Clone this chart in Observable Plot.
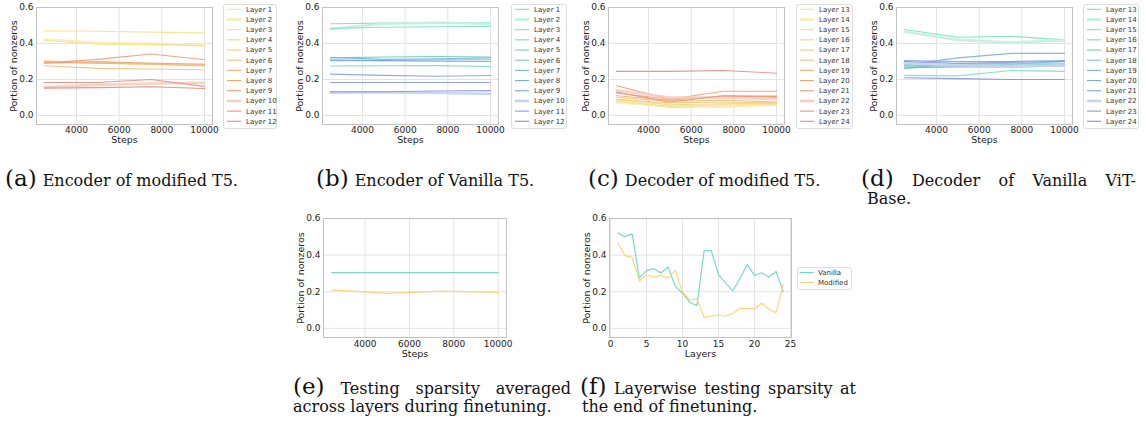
<!DOCTYPE html>
<html>
<head>
<meta charset="utf-8">
<script src="https://cdn.jsdelivr.net/npm/d3@7"></script>
<script src="https://cdn.jsdelivr.net/npm/@observablehq/plot@0.6"></script>
<style>
html,body{margin:0;padding:0;background:#fff;}
#root{position:relative;width:1146px;height:426px;overflow:hidden;background:#fff;}
#root > *{position:absolute;}
</style>
</head>
<body>
<div id="root"></div>
<script>
// ---------- data ----------
const steps = [2500, 5000, 7500, 10000];
const stepTicks = [4000, 6000, 8000, 10000];
const yTicks = [0, 0.2, 0.4, 0.6];
const layerTicks = [0, 5, 10, 15, 20, 25];
const encoderLayers = ["Layer 1","Layer 2","Layer 3","Layer 4","Layer 5","Layer 6","Layer 7","Layer 8","Layer 9","Layer 10","Layer 11","Layer 12"];
const decoderLayers = ["Layer 13","Layer 14","Layer 15","Layer 16","Layer 17","Layer 18","Layer 19","Layer 20","Layer 21","Layer 22","Layer 23","Layer 24"];

// (a) Encoder of modified T5
const encModified = [
  [0.470, 0.468, 0.463, 0.459],
  [0.422, 0.404, 0.398, 0.392],
  [0.418, 0.396, 0.395, 0.387],
  [0.305, 0.290, 0.285, 0.280],
  [0.300, 0.295, 0.290, 0.285],
  [0.276, 0.262, 0.258, 0.254],
  [0.295, 0.290, 0.285, 0.275],
  [0.290, 0.300, 0.290, 0.285],
  [0.292, 0.312, 0.342, 0.310],
  [0.158, 0.170, 0.178, 0.182],
  [0.183, 0.183, 0.200, 0.162],
  [0.152, 0.155, 0.160, 0.150]
];
// (b) Encoder of Vanilla T5
const encVanilla = [
  [0.510, 0.513, 0.515, 0.515],
  [0.480, 0.510, 0.515, 0.510],
  [0.483, 0.490, 0.493, 0.495],
  [0.275, 0.276, 0.277, 0.272],
  [0.320, 0.325, 0.328, 0.325],
  [0.310, 0.305, 0.310, 0.310],
  [0.323, 0.312, 0.315, 0.320],
  [0.305, 0.305, 0.302, 0.300],
  [0.230, 0.223, 0.218, 0.222],
  [0.127, 0.128, 0.125, 0.120],
  [0.183, 0.183, 0.183, 0.183],
  [0.132, 0.132, 0.136, 0.138]
];
// (c) Decoder of modified T5
const decModified = [
  [0.075, 0.045, 0.045, 0.060],
  [0.072, 0.055, 0.050, 0.065],
  [0.080, 0.050, 0.060, 0.060],
  [0.090, 0.060, 0.065, 0.070],
  [0.088, 0.070, 0.075, 0.070],
  [0.100, 0.080, 0.085, 0.075],
  [0.110, 0.085, 0.110, 0.100],
  [0.125, 0.090, 0.105, 0.105],
  [0.165, 0.090, 0.135, 0.135],
  [0.140, 0.100, 0.100, 0.090],
  [0.130, 0.075, 0.110, 0.108],
  [0.245, 0.245, 0.250, 0.235]
];
// (d) Decoder of Vanilla ViT-Base
const decVanilla = [
  [0.478, 0.435, 0.440, 0.420],
  [0.465, 0.420, 0.405, 0.418],
  [0.223, 0.220, 0.250, 0.245],
  [0.270, 0.280, 0.290, 0.290],
  [0.280, 0.275, 0.280, 0.285],
  [0.260, 0.290, 0.285, 0.300],
  [0.280, 0.320, 0.345, 0.345],
  [0.265, 0.270, 0.270, 0.275],
  [0.305, 0.300, 0.300, 0.305],
  [0.290, 0.280, 0.270, 0.280],
  [0.300, 0.290, 0.295, 0.300],
  [0.210, 0.205, 0.200, 0.200]
];
// (e) averaged across layers
const avgVanilla = [0.304, 0.304, 0.304, 0.304];
const avgModified = [0.210, 0.191, 0.203, 0.196];
// (f) layerwise at end of finetuning
const layerIds = [1,2,3,4,5,6,7,8,9,10,11,12,13,14,15,16,17,18,19,20,21,22,23,24];
const layerVanilla = [0.521,0.501,0.516,0.274,0.315,0.326,0.302,0.335,0.229,0.192,0.143,0.124,0.424,0.424,0.293,0.247,0.205,0.274,0.348,0.289,0.304,0.280,0.311,0.201];
const layerModified = [0.466,0.397,0.388,0.260,0.293,0.280,0.289,0.274,0.315,0.198,0.155,0.161,0.059,0.068,0.073,0.066,0.082,0.110,0.108,0.106,0.137,0.104,0.086,0.238];
const finetuneSeries = ["Vanilla", "Modified"];

// ---------- styles ----------
const warmColors = ["#f6e58d","#f8eeb4","#f6de86","#f5d585","#f5ca80","#f4c07e","#f2b277","#f0a674","#ee9c80","#f4cfc2","#ec9183","#e98b82"];
const coolColors = ["#7fe0c1","#c4efe2","#82ddc8","#7fd6ca","#6fcbc6","#7cc6d1","#77b6d5","#79acd8","#84a5df","#c8d4eb","#8a9bdf","#8993df"];
const layerWidths = [1.1,2.6,1.1,1.1,1.1,1.1,1.1,1.1,1.1,2.6,1.1,1.1];
const pairColors = ["#72d4c6", "#f6d27a"];

const root = document.getElementById("root");
function place(el, left, top) {
  el.style.position = "absolute";
  el.style.left = left + "px";
  el.style.top = top + "px";
  root.appendChild(el);
  return el;
}

function sparsityPlot({xs, series, colors, widths, xDomain, xTicks, xLabel, frameW, frameH, tickPad, labelDy}) {
  const rows = [];
  series.forEach((vals, i) => vals.forEach((v, j) => rows.push({x: xs[j], y: v, k: i})));
  const ml = 36, mr = 10, mt = 7, mb = 28;
  return Plot.plot({
    width: ml + frameW + mr, height: mt + frameH + mb,
    marginLeft: ml, marginRight: mr, marginTop: mt, marginBottom: mb,
    style: {fontFamily: "'DejaVu Sans', sans-serif", fontSize: "9px", color: "#222", background: "transparent", overflow: "visible"},
    x: {domain: xDomain, ticks: xTicks, tickSize: 0, tickPadding: tickPad, tickFormat: d => String(d), label: null},
    y: {domain: [-0.05, 0.6], ticks: yTicks, tickSize: 0, tickPadding: 3, tickFormat: d3.format(".1f"), label: null},
    marks: [
      Plot.gridX(xTicks, {stroke: "#e3e3e3", strokeOpacity: 1}),
      Plot.gridY(yTicks, {stroke: "#e3e3e3", strokeOpacity: 1}),
      ...series.map((_, i) => Plot.line(rows.filter(r => r.k === i), {x: "x", y: "y", stroke: colors[i], strokeWidth: widths[i], strokeOpacity: 0.92})),
      Plot.frame({stroke: "#c2c2c2"}),
      Plot.text([xLabel], {text: d => d, frameAnchor: "bottom", dy: labelDy, lineAnchor: "middle", textAnchor: "middle", fontSize: 9.5, fill: "#222"}),
      Plot.text(["Portion of nonzeros"], {text: d => d, frameAnchor: "left", dx: -23, rotate: -90, textAnchor: "middle", lineAnchor: "middle", fontSize: 9.5, fill: "#222"})
    ]
  });
}

function legendBox({left, top, w, h, names, colors, widths, y0, step, lx1, lx2, tx}) {
  const svg = d3.create("svg").attr("width", w + 1).attr("height", h + 1).style("overflow", "visible");
  svg.append("rect").attr("x", 0.5).attr("y", 0.5).attr("width", w).attr("height", h).attr("rx", 2)
    .attr("fill", "#fff").attr("stroke", "#dedede");
  names.forEach((n, i) => {
    const y = y0 + i * step;
    svg.append("line").attr("x1", lx1).attr("x2", lx2).attr("y1", y).attr("y2", y)
      .attr("stroke", colors[i]).attr("stroke-width", widths[i]);
    svg.append("text").attr("x", tx).attr("y", y).attr("dy", "0.35em")
      .attr("font-family", "'DejaVu Sans', sans-serif").attr("font-size", 7).attr("fill", "#333").text(n);
  });
  place(svg.node(), left, top);
}

// ---------- top row ----------
const topPanels = [
  {left: 0,   series: encModified, colors: warmColors, names: encoderLayers, leg: 223, lw: 53},
  {left: 286, series: encVanilla,  colors: coolColors, names: encoderLayers, leg: 511, lw: 55},
  {left: 572, series: decModified, colors: warmColors, names: decoderLayers, leg: 796, lw: 56},
  {left: 860, series: decVanilla,  colors: coolColors, names: decoderLayers, leg: 1083, lw: 55}
];
topPanels.forEach(p => {
  place(sparsityPlot({xs: steps, series: p.series, colors: p.colors, widths: layerWidths,
    xDomain: [2125, 10375], xTicks: stepTicks, xLabel: "Steps", frameW: 176, frameH: 117, tickPad: 2, labelDy: 15.5}), p.left, 0);
  legendBox({left: p.leg, top: 4, w: p.lw, h: 124, names: p.names, colors: p.colors, widths: layerWidths,
    y0: 5.3, step: 10.18, lx1: 4, lx2: 18, tx: 23});
});

// ---------- bottom row ----------
place(sparsityPlot({xs: steps, series: [avgVanilla, avgModified], colors: pairColors, widths: [1.2, 1.2],
  xDomain: [2125, 10375], xTicks: stepTicks, xLabel: "Steps", frameW: 183, frameH: 119, tickPad: 3, labelDy: 16}), 287, 211);
place(sparsityPlot({xs: layerIds, series: [layerVanilla, layerModified], colors: pairColors, widths: [1.2, 1.2],
  xDomain: [-0.15, 25.15], xTicks: layerTicks, xLabel: "Layers", frameW: 182, frameH: 119, tickPad: 3, labelDy: 16}), 573, 211);
legendBox({left: 797, top: 267, w: 54, h: 22, names: finetuneSeries, colors: pairColors, widths: [1.2, 1.2],
  y0: 5.5, step: 10, lx1: 2.5, lx2: 16.5, tx: 21});

// ---------- captions ----------
const capSvg = d3.create("svg").attr("width", 1146).attr("height", 426).style("pointer-events", "none");
place(capSvg.node(), 0, 0);
const serif = "'DejaVu Serif', 'Liberation Serif', serif";
const capSize = 16, labSize = 23;
function word(x, y, t, size) {
  return capSvg.append("text").attr("x", x).attr("y", y).attr("font-family", serif)
    .attr("font-size", size).attr("fill", "#111").text(t);
}
function caption(x, y, label, text) {
  const l = word(x, y, label, labSize);
  const w = l.node().getComputedTextLength();
  word(x + w + 6, y, text, capSize);
}
function justified(x1, x2, y, words) {
  const nodes = words.map((t, i) => word(0, y, t, i === 0 ? labSize : capSize));
  const widths = nodes.map(n => n.node().getComputedTextLength());
  const gap = (x2 - x1 - d3.sum(widths)) / (words.length - 1);
  let x = x1;
  nodes.forEach((n, i) => { n.attr("x", x); x += widths[i] + gap; });
}
caption(5, 186, "(a)", "Encoder of modified T5.");
caption(316, 186, "(b)", "Encoder of Vanilla T5.");
caption(588, 186, "(c)", "Decoder of modified T5.");
justified(861, 1136, 186, ["(d)", "Decoder", "of", "Vanilla", "ViT-"]);
word(867, 204, "Base.", capSize);
justified(293, 571, 394, ["(e)", "Testing", "sparsity", "averaged"]);
word(293, 412, "across layers during finetuning.", capSize);
justified(580, 856, 394, ["(f)", "Layerwise", "testing", "sparsity", "at"]);
word(582, 412, "the end of finetuning.", capSize);
</script>
</body>
</html>
